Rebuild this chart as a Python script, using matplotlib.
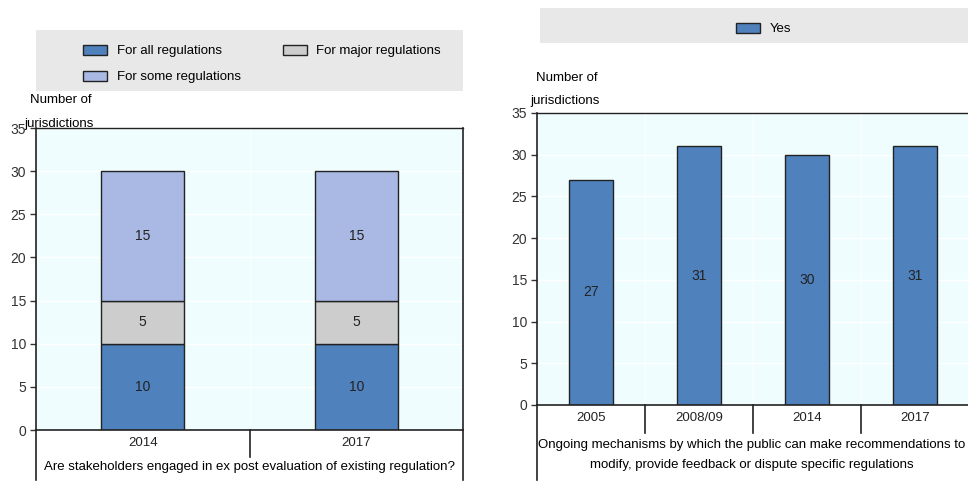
import numpy as np
import matplotlib
matplotlib.use("Agg")
import matplotlib.pyplot as plt
from matplotlib.patches import Patch, Rectangle

plt.rcParams['font.family'] = ['Liberation Sans', 'DejaVu Sans']
plt.rcParams['font.size'] = 9.5

# left panel data
years_left = ["2014", "2017"]
all_regs = [10, 10]
major_regs = [5, 5]
some_regs = [15, 15]
left_title = "Are stakeholders engaged in ex post evaluation of existing regulation?"

# right panel data
years_right = ["2005", "2008/09", "2014", "2017"]
yes_vals = [27, 31, 30, 31]
right_title = ("Ongoing mechanisms by which the public can make recommendations to\n"
               "modify, provide feedback or dispute specific regulations")

c_all = "#4f81bd"
c_major = "#cdcdcd"
c_some = "#a9b9e3"
bg = "#f0fdff"
edge = "#222222"

W, H = 968, 482
fig = plt.figure(figsize=(W / 100, H / 100), dpi=100)


def px_axes(l, t, r, b):
    return fig.add_axes([l / W, 1 - b / H, (r - l) / W, (b - t) / H])


def style(ax, n, spine_drop, sep_drop):
    ax.set_facecolor(bg)
    ax.set_ylim(0, 35)
    ax.set_xlim(-0.5, n - 0.5)
    ax.set_yticks(np.arange(0, 36, 5))
    ax.yaxis.grid(True, color="white", lw=1)
    ax.set_axisbelow(True)
    ax.set_xticks(np.arange(n))
    ax.tick_params(axis="x", length=0, pad=5, labelsize=9.5, colors="#222222")
    ax.tick_params(axis="y", length=4, width=1, pad=3, labelsize=10, colors="#333333")
    ax.set_xticks(np.arange(n - 1) + 0.5, minor=True)
    ax.xaxis.grid(True, which="minor", color="#f8ffff", lw=1)
    ax.tick_params(axis="x", which="minor", length=0)
    for s in ax.spines.values():
        s.set_color("#222222")
        s.set_linewidth(1.2)
    ax.spines["top"].set_linewidth(1.0)
    ax.axvline(-0.5, ymin=spine_drop, ymax=0, clip_on=False, color="#222222", lw=1.2)
    for b in np.arange(n - 1) + 0.5:
        ax.axvline(b, ymin=sep_drop, ymax=0, clip_on=False, color="#222222", lw=1.2)


# ---- left panel ----
ax1 = px_axes(36, 128, 463, 430)
x1 = np.arange(len(years_left))
b_all = ax1.bar(x1, all_regs, 0.39, color=c_all, edgecolor=edge, lw=1)
b_maj = ax1.bar(x1, major_regs, 0.39, bottom=all_regs, color=c_major, edgecolor=edge, lw=1)
b_some = ax1.bar(x1, some_regs, 0.39, bottom=np.add(all_regs, major_regs),
                 color=c_some, edgecolor=edge, lw=1)
for bars in (b_all, b_maj, b_some):
    ax1.bar_label(bars, label_type="center", fontsize=10, color="#222222")
style(ax1, len(years_left), -0.166, -0.089)
ax1.set_xticklabels(years_left)
ax1.axvline(1.5, ymin=-0.166, ymax=0, clip_on=False, color="#222222", lw=1.2)
fig.text(250 / W, 1 - 467 / H, left_title, ha="center", va="center", fontsize=9.5)
fig.text(30 / W, 1 - 100 / H, "Number of", ha="left", va="center", fontsize=9.5)
fig.text(24 / W, 1 - 124 / H, "jurisdictions", ha="left", va="center", fontsize=9.5)

fig.patches.append(Rectangle((36 / W, 1 - 91 / H), 427 / W, 61 / H,
                             transform=fig.transFigure, facecolor="#e8e8e8",
                             edgecolor="none", zorder=0))
h_left = [Patch(facecolor=c_all, edgecolor=edge, label="For all regulations"),
          Patch(facecolor=c_some, edgecolor=edge, label="For some regulations"),
          Patch(facecolor=c_major, edgecolor=edge, label="For major regulations")]
fig.legend(handles=h_left, ncol=2, loc="center", bbox_to_anchor=(262 / W, 1 - 64 / H),
           frameon=False, fontsize=9.5, handlelength=1.8, handleheight=0.85,
           columnspacing=3.2, labelspacing=1.0, handletextpad=0.75)

# ---- right panel ----
ax2 = px_axes(537, 113, 969, 405)
x2 = np.arange(len(years_right))
b_yes = ax2.bar(x2, yes_vals, 0.4, color=c_all, edgecolor=edge, lw=1)
ax2.bar_label(b_yes, label_type="center", fontsize=10, color="#222222")
style(ax2, len(years_right), -0.257, -0.096)
ax2.spines["right"].set_visible(False)
ax2.set_xticklabels(years_right)
fig.text(752 / W, 1 - 455 / H, right_title, ha="center", va="center", fontsize=9.5,
         linespacing=1.9)
fig.text(536 / W, 1 - 78 / H, "Number of", ha="left", va="center", fontsize=9.5)
fig.text(530 / W, 1 - 101 / H, "jurisdictions", ha="left", va="center", fontsize=9.5)

fig.patches.append(Rectangle((540 / W, 1 - 43 / H), 428 / W, 35 / H,
                             transform=fig.transFigure, facecolor="#e8e8e8",
                             edgecolor="none", zorder=0))
fig.legend(handles=[Patch(facecolor=c_all, edgecolor=edge, label="Yes")], loc="center",
           bbox_to_anchor=(764 / W, 1 - 29 / H), frameon=False, fontsize=9.5,
           handlelength=1.8, handleheight=0.85, handletextpad=0.75)

fig.savefig("out.png", dpi=100)
